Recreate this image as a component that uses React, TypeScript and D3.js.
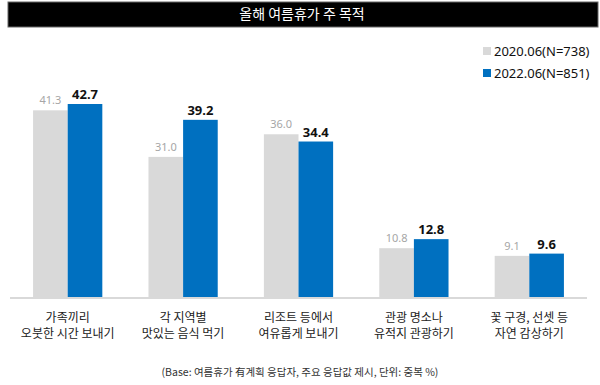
import React, { useRef, useEffect } from 'react';
import * as d3 from 'd3';

const categories = ['가족끼리\n오붓한 시간 보내기', '각 지역별\n맛있는 음식 먹기', '리조트 등에서\n여유롭게 보내기', '관광 명소나\n유적지 관광하기', '꽃 구경, 선셋 등\n자연 감상하기'];
const seriesNames = ['2020.06(N=738)', '2022.06(N=851)'];
const values2020 = [41.3, 31.0, 36.0, 10.8, 9.1];
const values2022 = [42.7, 39.2, 34.4, 12.8, 9.6];
const colors = ['#d9d9d9', '#0070c0'];

const W = 600;
const H = 385;
const KR = '"Noto Sans CJK KR", "Noto Sans", sans-serif';

const App = () => {
    const ref = useRef<SVGSVGElement>(null);

    useEffect(() => {
        const svg = d3.select(ref.current);
        svg.selectAll('*').remove();

        const baseY = 297;
        const series = [values2020, values2022];

        // title bar
        svg.append('rect')
            .attr('x', 8).attr('y', 2).attr('width', 590).attr('height', 25)
            .attr('fill', '#000').attr('stroke', '#666').attr('stroke-width', 1);
        svg.append('text')
            .attr('x', 302).attr('y', 19)
            .attr('text-anchor', 'middle')
            .attr('fill', '#fff')
            .style('font-family', KR)
            .style('font-size', '14px')
            .text('올해 여름휴가 주 목적');

        const x0 = d3.scaleBand()
            .domain(categories)
            .range([10, 587])
            .paddingInner(0.4)
            .paddingOuter(0.2);

        const x1 = d3.scaleBand()
            .domain(seriesNames)
            .range([0, x0.bandwidth()]);

        const y = d3.scaleLinear()
            .domain([0, 42.7])
            .range([baseY, 104]);

        // bars
        seriesNames.forEach((s, si) => {
            svg.append('g')
                .selectAll('rect')
                .data(series[si])
                .enter()
                .append('rect')
                .attr('x', (d, i) => (x0(categories[i]) ?? 0) + (x1(s) ?? 0))
                .attr('y', d => y(d))
                .attr('width', x1.bandwidth())
                .attr('height', d => baseY - y(d))
                .attr('fill', colors[si]);

            svg.append('g')
                .selectAll('text')
                .data(series[si])
                .enter()
                .append('text')
                .attr('x', (d, i) => (x0(categories[i]) ?? 0) + (x1(s) ?? 0) + x1.bandwidth() / 2)
                .attr('y', d => y(d) - (si === 0 ? 6 : 5))
                .attr('text-anchor', 'middle')
                .attr('fill', si === 0 ? '#a6a6a6' : '#111')
                .style('font-family', '"Noto Sans", sans-serif')
                .style('font-size', si === 0 ? '11px' : '13px')
                .style('font-weight', si === 0 ? 'normal' : 'bold')
                .text(d => d.toFixed(1));
        });

        // baseline
        svg.append('line')
            .attr('x1', 10).attr('x2', 587)
            .attr('y1', baseY + 1).attr('y2', baseY + 1)
            .attr('stroke', '#d9d9d9').attr('stroke-width', 2);

        // category labels
        const lab = svg.append('g')
            .selectAll('text')
            .data(categories)
            .enter()
            .append('text')
            .attr('text-anchor', 'middle')
            .attr('fill', '#222')
            .style('font-family', KR)
            .style('font-size', '12px');
        lab.each(function (d) {
            const t = d3.select(this);
            const cx = (x0(d) ?? 0) + x0.bandwidth() / 2;
            d.split('\n').forEach((line, li) => {
                t.append('tspan')
                    .attr('x', cx)
                    .attr('y', 322 + li * 16)
                    .text(line);
            });
        });

        // legend
        const legend = svg.append('g');
        seriesNames.forEach((s, si) => {
            legend.append('rect')
                .attr('x', 483).attr('y', 47 + si * 22)
                .attr('width', 8).attr('height', 8)
                .attr('fill', colors[si]);
            legend.append('text')
                .attr('x', 494).attr('y', 56 + si * 22)
                .attr('fill', '#111')
                .style('font-family', '"Noto Sans", sans-serif')
                .style('font-size', '13px')
                .text(s);
        });

        // footnote
        svg.append('text')
            .attr('x', 300).attr('y', 376)
            .attr('text-anchor', 'middle')
            .attr('fill', '#333')
            .style('font-family', KR)
            .style('font-size', '10.5px')
            .text('(Base: 여름휴가 有계획 응답자, 주요 응답값 제시, 단위: 중복 %)');
    }, []);

    return (
        <div style={{ position: 'absolute', left: 0, top: 0 }}>
            <svg ref={ref} width={W} height={H} style={{ display: 'block', background: '#fff' }}></svg>
        </div>
    );
};

export default App;
